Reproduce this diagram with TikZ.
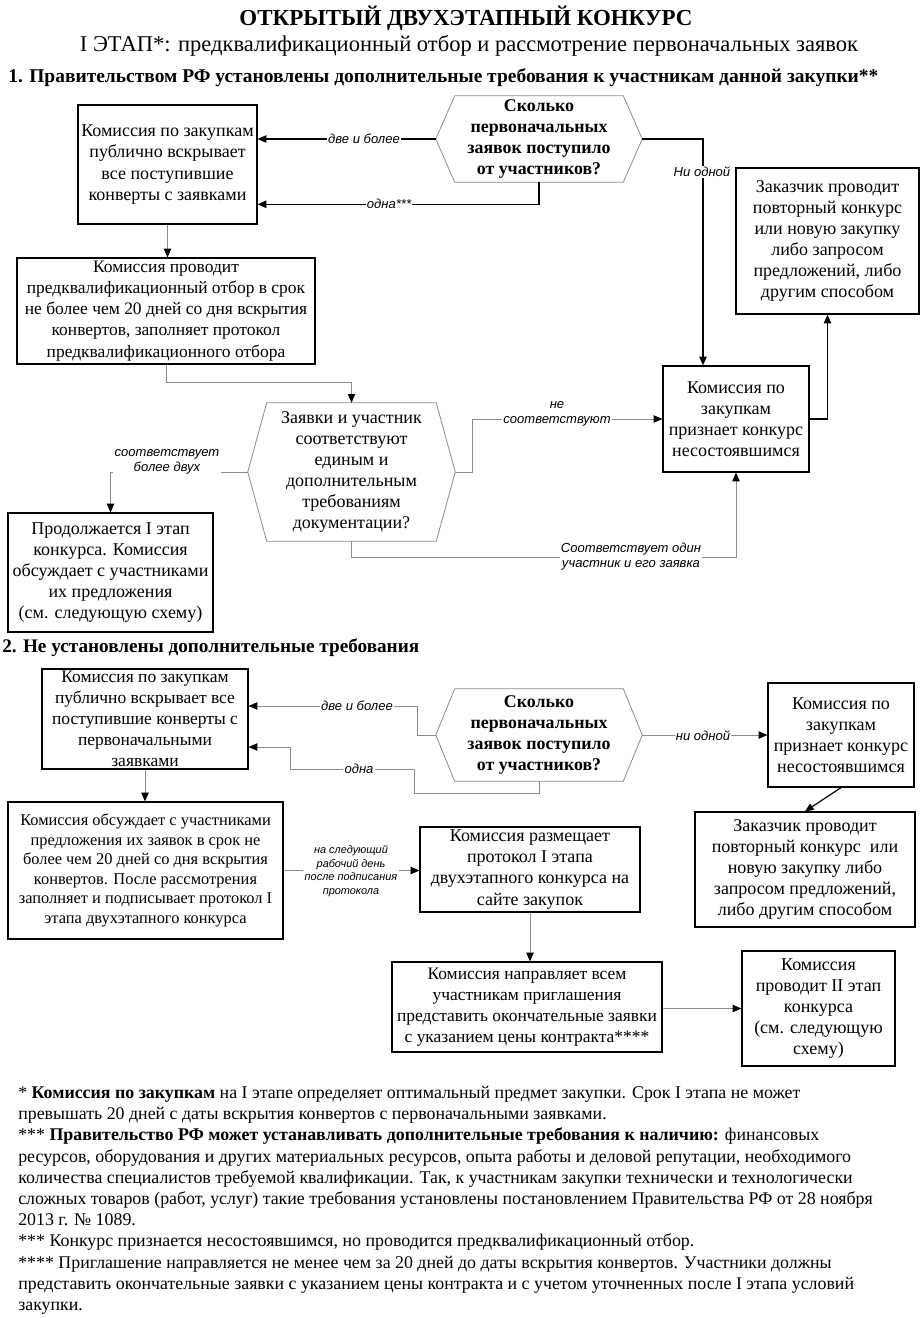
\documentclass[tikz,border=0pt]{standalone}
\usepackage{fontspec}
\setmainfont{Liberation Serif}
\newfontfamily\lblfamily{Liberation Sans}
\usetikzlibrary{arrows.meta,calc}
\tikzset{
  box/.style={draw=black, line width=0.9pt, align=center, inner sep=0pt,
    font=\fontsize{13.5}{15.8}\selectfont},
  tightbox/.style={box, font=\fontsize{13.1}{15.8}\selectfont},
  smallbox/.style={box, font=\fontsize{12.3}{14.6}\selectfont},
  hexnode/.style={draw=none, align=center, inner sep=0pt,
    font=\fontsize{13.5}{15.8}\selectfont},
  hexline/.style={draw=black!45, line width=0.6pt},
  lbl/.style={fill=white, inner sep=1pt, align=center,
    font=\lblfamily\itshape\fontsize{9.8}{11.3}\selectfont},
  slbl/.style={lbl, font=\lblfamily\itshape\fontsize{8.2}{10.1}\selectfont},
  tip/.style={-{Triangle[length=6.5pt,width=5.5pt,color=black]}},
  blk/.style={tip, draw=black, line width=0.9pt},
  gry/.style={tip, draw=black!45, line width=0.6pt},
  headtxt/.style={inner sep=0pt, anchor=west},
}
\newcommand\hexdraw[1]{\draw[hexline] ($(#1.north west)+(19,0)$) -- ($(#1.north east)+(-19,0)$) -- (#1.east) -- ($(#1.south east)+(-19,0)$) -- ($(#1.south west)+(19,0)$) -- (#1.west) -- cycle;}
\begin{document}
\begin{tikzpicture}[x=0.75pt,y=-0.75pt]
\useasboundingbox[fill=white] (0,0) rectangle (920,1318);

% Titles
\node[inner sep=0pt, font=\bfseries\fontsize{17.2}{20}\selectfont] (title) at (466,18) {ОТКРЫТЫЙ ДВУХЭТАПНЫЙ КОНКУРС};
\node[inner sep=0pt, font=\fontsize{16.9}{19}\selectfont] (subtitle) at (469,46) {I ЭТАП*: предквалификационный отбор и рассмотрение первоначальных заявок};
\node[headtxt, font=\bfseries\fontsize{14.6}{17}\selectfont] (head1) at (8,78) {1. Правительством РФ установлены дополнительные требования к участникам данной закупки**};

% Section 1
\node[box, minimum width=134.25pt, minimum height=89.25pt] (A) at (167.5,164.5) {Комиссия по закупкам\\публично вскрывает\\все поступившие\\конверты с заявками};
\node[hexnode, minimum width=154.5pt, minimum height=64.5pt, font=\bfseries\fontsize{13.4}{15.8}\selectfont] (h1) at (539,139) {Сколько\\первоначальных\\заявок поступило\\от участников?};
\hexdraw{h1}
\node[box, minimum width=137.25pt, minimum height=109.5pt] (Z1) at (827.5,241) {Заказчик проводит\\повторный конкурс\\или новую закупку\\либо запросом\\предложений, либо\\другим способом};
\node[tightbox, minimum width=223.5pt, minimum height=79.5pt] (B) at (166,311) {Комиссия проводит\\предквалификационный отбор в срок\\не более чем 20 дней со дня вскрытия\\конвертов, заполняет протокол\\предквалификационного отбора};
\node[box, minimum width=109.5pt, minimum height=79.5pt] (C1) at (736,419) {Комиссия по\\закупкам\\признает конкурс\\несостоявшимся};
\node[hexnode, minimum width=155.25pt, minimum height=103.5pt] (h2) at (351.5,472) {Заявки и участник\\соответствуют\\единым и\\дополнительным\\требованиям\\документации?};
\hexdraw{h2}
\node[box, minimum width=153.75pt, minimum height=89.25pt] (D) at (110.5,572.5) {Продолжается I этап\\конкурса. Комиссия\\обсуждает с участниками\\их предложения\\(см. следующую схему)};

\draw[blk] (h1.west) -- (h1.west -| A.east);
\node[lbl] (l1) at (364,139) {две и более};
\draw[blk] (h1.south) -- ++(0,22) coordinate (c1) -- (c1 -| A.east);
\node[lbl] (l2) at (389,204) {одна***};
\draw[blk] (h1.east) -| ($(C1.north)+(-33,0)$);
\node[lbl] (l3) at (702,172) {Ни одной};
\draw[blk] (C1.east) -| (Z1.south);
\draw[gry] (A.south) -- (A.south |- B.north);
\draw[gry] (B.south) -- ++(0,18) -| (h2.north);
\draw[gry] (h2.east) -- ++(17,0) |- (C1.west);
\node[lbl] (l4) at (557,414) {не\\соответствуют};
\draw[gry] (h2.south) -- ++(0,16) -| (C1.south);
\node[lbl] (l5) at (631,557) {Соответствует один\\участник и его заявка};
\draw[gry] (h2.west) -| (D.north);
\node[lbl] (l6) at (167,462) {соответствует\\более двух};

% Section 2
\node[headtxt, font=\bfseries\fontsize{14.4}{16}\selectfont] (head2) at (2,648) {2. Не установлены дополнительные требования};
\node[tightbox, minimum width=154.5pt, minimum height=75pt] (E) at (145,719) {Комиссия по закупкам\\публично вскрывает все\\поступившие конверты с\\первоначальными\\заявками};
\node[hexnode, minimum width=154.5pt, minimum height=69pt, font=\bfseries\fontsize{13.4}{15.8}\selectfont] (h3) at (539,735) {Сколько\\первоначальных\\заявок поступило\\от участников?};
\hexdraw{h3}
\node[box, minimum width=109.5pt, minimum height=78pt] (C2) at (841,735) {Комиссия по\\закупкам\\признает конкурс\\несостоявшимся};
\node[box, minimum width=165pt, minimum height=86.25pt] (Z2) at (805,869.5) {Заказчик проводит\\повторный конкурс\ \ или\\новую закупку либо\\запросом предложений,\\либо другим способом};
\node[smallbox, minimum width=206.25pt, minimum height=102.75pt] (F) at (145.5,870.5) {Комиссия обсуждает с участниками\\предложения их заявок в срок не\\более чем 20 дней со дня вскрытия\\конвертов. После рассмотрения\\заполняет и подписывает протокол I\\этапа двухэтапного конкурса};
\node[box, minimum width=165pt, minimum height=63.75pt] (G) at (530,869.5) {Комиссия размещает\\протокол I этапа\\двухэтапного конкурса на\\сайте закупок};
\node[tightbox, minimum width=202.5pt, minimum height=67.5pt] (H) at (527,1007) {Комиссия направляет всем\\участникам приглашения\\представить окончательные заявки\\с указанием цены контракта****};
\node[box, minimum width=114.75pt, minimum height=86.25pt] (I) at (818.5,1008.5) {Комиссия\\проводит II этап\\конкурса\\(см. следующую\\схему)};

\draw[gry] (h3.west) -- ++(-18,0) |- ($(E.east)+(0,-13)$);
\node[lbl] (l7) at (357,706) {две и более};
\draw[gry] (h3.south) -- ++(0,12) -| (414,769) -| (290,747) -- ($(E.east)+(0,28)$);
\node[lbl] (l8) at (359,769) {одна};
\draw[gry] (h3.east) -- (C2.west);
\node[lbl] (l9) at (703,736) {ни одной};
\draw[blk] (C2.south) -- (Z2.north);
\draw[gry] (E.south) -- (E.south |- F.north);
\draw[gry] (F.east) -- (F.east -| G.west);
\node[slbl] (l10) at (351,871) {на следующий\\рабочий день\\после подписания\\протокола};
\draw[gry] (G.south) -- (G.south |- H.north);
\draw[gry] (H.east |- I.west) -- (I.west);

% Footnotes
\node[anchor=north west, inner sep=0pt, align=left, font=\fontsize{13.4}{15.9}\selectfont] (notes) at (18,1086) {%
* \textbf{Комиссия по закупкам} на I этапе определяет оптимальный предмет закупки. Срок I этапа не может\\
превышать 20 дней с даты вскрытия конвертов с первоначальными заявками.\\
*** \textbf{Правительство РФ может устанавливать дополнительные требования к наличию:} финансовых\\
ресурсов, оборудования и других материальных ресурсов, опыта работы и деловой репутации, необходимого\\
количества специалистов требуемой квалификации. Так, к участникам закупки технически и технологически\\
сложных товаров (работ, услуг) такие требования установлены постановлением Правительства РФ от 28 ноября\\
2013 г. № 1089.\\
*** Конкурс признается несостоявшимся, но проводится предквалификационный отбор.\\
**** Приглашение направляется не менее чем за 20 дней до даты вскрытия конвертов. Участники должны\\
представить окончательные заявки с указанием цены контракта и с учетом уточненных после I этапа условий\\
закупки.};
\end{tikzpicture}
\end{document}
